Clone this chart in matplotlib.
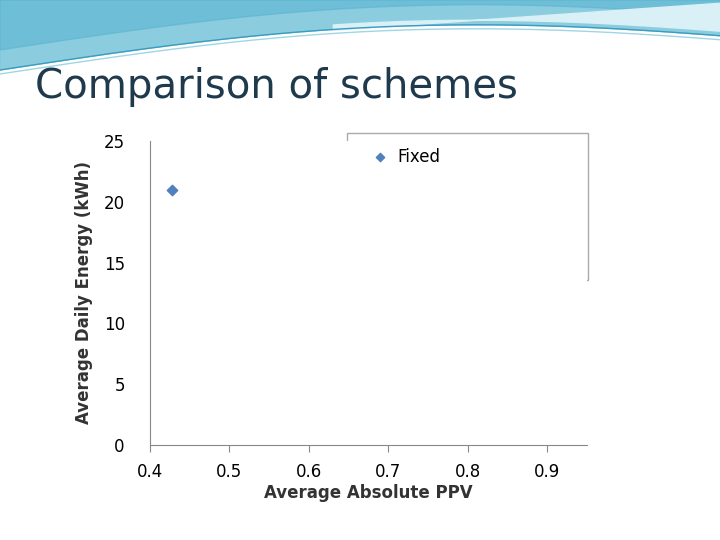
import numpy as np
import matplotlib.pyplot as plt
from matplotlib.patches import Rectangle

# data
series_name = "Fixed"
ppv = [0.428]
energy = [21.0]
x_ticks = [0.4, 0.5, 0.6, 0.7, 0.8, 0.9]
y_ticks = [0, 5, 10, 15, 20, 25]

fig = plt.figure(figsize=(7.2, 5.4), dpi=100)

# slide decoration at the top
bg = fig.add_axes([0, 0, 1, 1])
bg.set_xlim(0, 720)
bg.set_ylim(540, 0)
bg.axis('off')
xs = np.linspace(0, 720, 200)
lower = 70 - 30 * np.sin(xs / 720 * np.pi * 0.9) - 25 * (xs / 720)
bg.fill_between(xs, 0, lower, color='#7ec8dc', alpha=0.9)
bg.fill_between(xs, 0, lower - 20, color='#5ab4d0', alpha=0.6)
bg.plot(xs, lower, color='#3a9cc0', lw=1)
bg.plot(xs, lower + 4, color='#9fd6e6', lw=1)
m = xs > 330
bg.fill_between(xs[m], lower[m] - 5, 30 - (xs[m] - 330) * 0.07, color='#d8f0f6')
bg.text(35, 87, "Comparison of schemes", fontsize=29, color='#1f3a4d', va='center', ha='left')
# legend box
bg.add_patch(Rectangle((347, 133), 241, 147, fill=False, edgecolor='#aaaaaa', lw=1))

ax = fig.add_axes([0.208, 0.176, 0.607, 0.563])
ax.scatter(ppv, energy, marker='D', s=28, color='#4F81BD', label=series_name, zorder=3)
ax.set_xlim(0.4, 0.95)
ax.set_ylim(0, 25)
ax.set_xticks(x_ticks)
ax.set_yticks(y_ticks)
ax.set_xticklabels([str(t) for t in x_ticks])
for s in ['top', 'right']:
    ax.spines[s].set_visible(False)
ax.spines['left'].set_color('#888888')
ax.spines['bottom'].set_color('#888888')
ax.tick_params(axis='x', direction='out', length=5, color='#888888', labelsize=12, pad=8)
ax.tick_params(axis='y', length=0, labelsize=12, pad=18)
ax.set_xlabel("Average Absolute PPV", fontsize=12, fontweight='bold', color='#333333', labelpad=2)
ax.set_ylabel("Average Daily Energy (kWh)", fontsize=12, fontweight='bold', color='#333333', labelpad=8)
ax.legend(loc='upper left', bbox_to_anchor=(352 / 720, 1 - 136 / 540),
          bbox_transform=fig.transFigure, fontsize=12, frameon=False,
          handletextpad=0.0, borderpad=0.2, markerscale=0.8)

fig.savefig('out.png', dpi=100)
